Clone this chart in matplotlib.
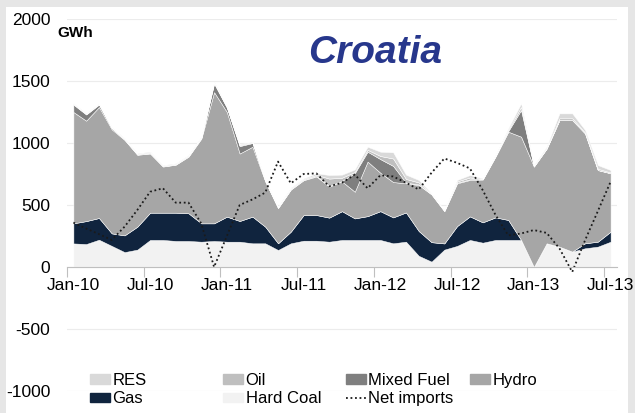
import matplotlib
matplotlib.use("Agg")
import matplotlib.pyplot as plt
import numpy as np
from matplotlib.patches import Patch, Rectangle
from matplotlib.lines import Line2D

plt.rcParams['font.family'] = ['Liberation Sans', 'DejaVu Sans']
plt.rcParams['axes.unicode_minus'] = False

# monthly data, Jan-10 .. Jul-13 (GWh)
months = ['Jan-10', 'Jul-10', 'Jan-11', 'Jul-11', 'Jan-12', 'Jul-12', 'Jan-13', 'Jul-13']
hard_coal = [190, 185, 220, 170, 120, 140, 218, 218, 210, 210, 204, 210, 204, 204, 191,
             191, 137, 191, 212, 212, 204, 218, 218, 218, 218, 191, 204, 90, 43, 140,
             170, 218, 196, 218, 218, 218, 0, 191, 164, 124, 151, 164, 204]
gas = [162, 185, 175, 101, 135, 185, 220, 220, 228, 223, 148, 142, 202, 167, 215,
       134, 54, 94, 207, 207, 194, 232, 174, 192, 232, 209, 236, 200, 157, 50,
       160, 190, 164, 182, 161, 0, 0, 0, 0, 0, 40, 40, 81]
hydro = [898, 810, 895, 839, 770, 580, 477, 372, 387, 457, 683, 1058, 844, 544, 564,
         365, 284, 340, 281, 311, 250, 240, 215, 440, 310, 285, 235, 371, 385, 260,
         345, 294, 345, 490, 712, 833, 810, 764, 1021, 1061, 887, 578, 471]
mixed_fuel = [60, 50, 20, 10, 3, 2, 3, 2, 2, 3, 5, 70, 35, 60, 30,
              3, 2, 2, 3, 5, 5, 5, 150, 80, 110, 130, 5, 5, 2, 2,
              5, 5, 3, 3, 5, 215, 0, 0, 0, 0, 0, 0, 0]
oil = [5, 4, 4, 2, 5, 5, 6, 5, 4, 5, 5, 7, 4, 7, 5,
       4, 4, 6, 6, 8, 60, 25, 10, 15, 25, 60, 30, 16, 3, 4,
       10, 15, 3, 5, 10, 24, 5, 5, 14, 14, 7, 10, 6]
res = [5, 5, 4, 3, 5, 5, 6, 5, 5, 5, 6, 7, 4, 8, 5,
       5, 5, 7, 6, 13, 29, 25, 20, 25, 35, 50, 35, 20, 4, 4,
       12, 20, 4, 5, 12, 30, 7, 10, 40, 40, 20, 30, 20]
net_imports = [358, 310, 265, 218, 325, 460, 607, 635, 519, 519, 350, 0, 250, 500, 545,
               600, 850, 675, 750, 755, 650, 680, 745, 635, 740, 730, 680, 625, 760, 875,
               840, 795, 620, 420, 255, 270, 298, 275, 150, -40, 215, 450, 688]

colors = {'Hard Coal': '#f2f2f2', 'Gas': '#10243e', 'Hydro': '#a6a6a6',
          'Mixed Fuel': '#7f7f7f', 'Oil': '#bfbfbf', 'RES': '#d9d9d9'}

W, H = 635, 413
fig = plt.figure(figsize=(W / 100, H / 100), dpi=100, facecolor='#e6e6e6')
fig.patches.append(Rectangle((6 / W, 0), (628 - 6) / W, (H - 7) / H, transform=fig.transFigure,
                             facecolor='white', edgecolor='none', zorder=-10))

ax = fig.add_axes([67 / W, 22 / H, 550 / W, 372 / H])
ax.patch.set_visible(False)

x = np.arange(len(hard_coal))
ax.stackplot(x, hard_coal, gas, hydro, mixed_fuel, oil, res,
             colors=[colors['Hard Coal'], colors['Gas'], colors['Hydro'],
                     colors['Mixed Fuel'], colors['Oil'], colors['RES']],
             edgecolor='white', linewidth=0.35, zorder=2)
ax.plot(x, net_imports, color='#1a1a1a', lw=1.3, linestyle=(0, (1, 1.5)), zorder=3)

ax.set_xlim(-0.5, 42.5)
ax.set_ylim(-1000, 2000)
ax.set_yticks(np.arange(-1000, 2001, 500))
ax.yaxis.grid(True, color='#ececec', lw=0.8)
ax.set_axisbelow(True)
ax.tick_params(axis='y', length=0, pad=12, labelsize=12.5)

for s in ['left', 'top', 'right']:
    ax.spines[s].set_visible(False)
ax.spines['bottom'].set_position(('data', 0))
ax.spines['bottom'].set_color('#bfbfbf')
ax.spines['bottom'].set_zorder(4)

ax.set_xticks(np.arange(-0.5, 42, 6))
ax.set_xticklabels([])
ax.tick_params(axis='x', which='major', length=7, color='#bfbfbf')
ax.set_xticks(np.arange(0, 43, 6), minor=True)
ax.set_xticklabels(months, minor=True)
ax.tick_params(axis='x', which='minor', length=0, pad=8, labelsize=12.5)

ax.text(-0.018, 0.952, 'GWh', transform=ax.transAxes, fontsize=11, fontweight='bold',
        ha='left', va='baseline')
ax.text(0.56, 0.882, 'Croatia', transform=ax.transAxes, fontsize=28, fontweight='bold',
        fontstyle='italic', color='#27378c', ha='center', va='baseline')

# legend, laid out in four columns like the original
legend_cols = [
    [Patch(color=colors['RES'], label='RES'), Patch(color=colors['Gas'], label='Gas')],
    [Patch(color=colors['Oil'], label='Oil'), Patch(color=colors['Hard Coal'], label='Hard Coal')],
    [Patch(color=colors['Mixed Fuel'], label='Mixed Fuel'),
     Line2D([], [], color='#1a1a1a', lw=1.3, linestyle=(0, (1, 1.5)), label='Net imports')],
    [Patch(color=colors['Hydro'], label='Hydro')],
]
col_x = [90, 223, 346, 470]
for hs, cx in zip(legend_cols, col_x):
    leg = fig.legend(handles=hs, loc='upper left', bbox_to_anchor=(cx / W, 1 - 373 / H),
                     frameon=False, fontsize=12, handlelength=1.2, handleheight=0.5,
                     handletextpad=0.15, labelspacing=0.2, borderpad=0, borderaxespad=0)

fig.savefig('out.png', dpi=100, facecolor=fig.get_facecolor())
